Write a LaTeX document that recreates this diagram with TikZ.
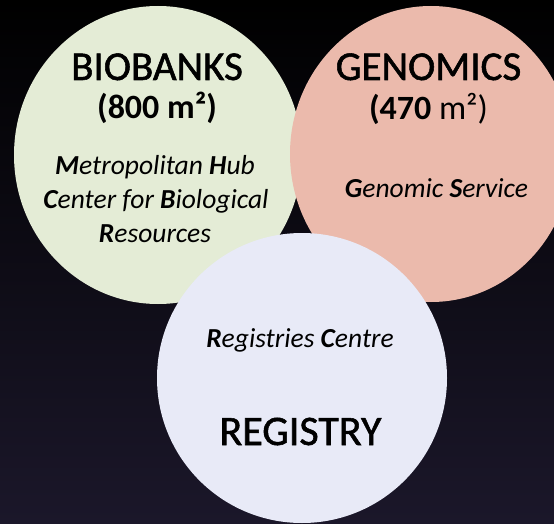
\documentclass[tikz,border=0pt]{standalone}
\usepackage{fontspec}
\setmainfont{Carlito}
\newfontfamily\semib[FakeBold=1.3]{Carlito}
\usetikzlibrary{shapes.geometric}
\definecolor{bgbot}{RGB}{27,23,42}
\definecolor{biofill}{RGB}{228,236,214}
\definecolor{genfill}{RGB}{235,186,172}
\definecolor{regfill}{RGB}{232,234,247}
\begin{document}
\begin{tikzpicture}[x=1pt,y=-1pt,
  blob/.style={ellipse, inner sep=0pt, draw=none},
  title/.style={anchor=base, inner sep=0pt, text=black, font=\semib\fontsize{41}{41}\selectfont},
  area/.style={anchor=base, inner sep=0pt, text=black, font=\fontsize{34}{34}\selectfont\bfseries},
  sub/.style={anchor=base, inner sep=0pt, text=black, font=\fontsize{27.5}{27.5}\selectfont\itshape}]
\useasboundingbox (0,0) rectangle (554,524);
\shade[top color=black, bottom color=bgbot] (0,0) rectangle (554,524);
\node[blob, fill=biofill, minimum width=288pt, minimum height=298pt] (bio) at (158,155) {};
\node[blob, fill=genfill, minimum width=282pt, minimum height=296pt] (gen) at (431,154) {};
\node[blob, fill=regfill, minimum width=290pt, minimum height=290pt] (reg) at (302,378) {};
\node[title] (biot) at (157,80) {BIOBANKS};
\node[area] (bioa) at (157,119) {(800 m²)};
\node[sub] (bios1) at (155,175) {\textbf{M}etropolitan \textbf{H}ub};
\node[sub] (bios2) at (156,208) {\textbf{C}enter for \textbf{B}iological};
\node[sub] (bios3) at (155,242) {\textbf{R}esources};
\node[title] (gent) at (428.5,80) {GENOMICS};
\node[area] (gena) at (428.5,120) {(470 {\mdseries m²)}};
\node[sub] (gens) at (436.5,197) {\textbf{G}enomic \textbf{S}ervice};
\node[sub] (regs) at (300,347) {\textbf{R}egistries \textbf{C}entre};
\node[title, font=\semib\fontsize{42}{42}\selectfont] (regt) at (300.5,445) {REGISTRY};
\end{tikzpicture}
\end{document}
